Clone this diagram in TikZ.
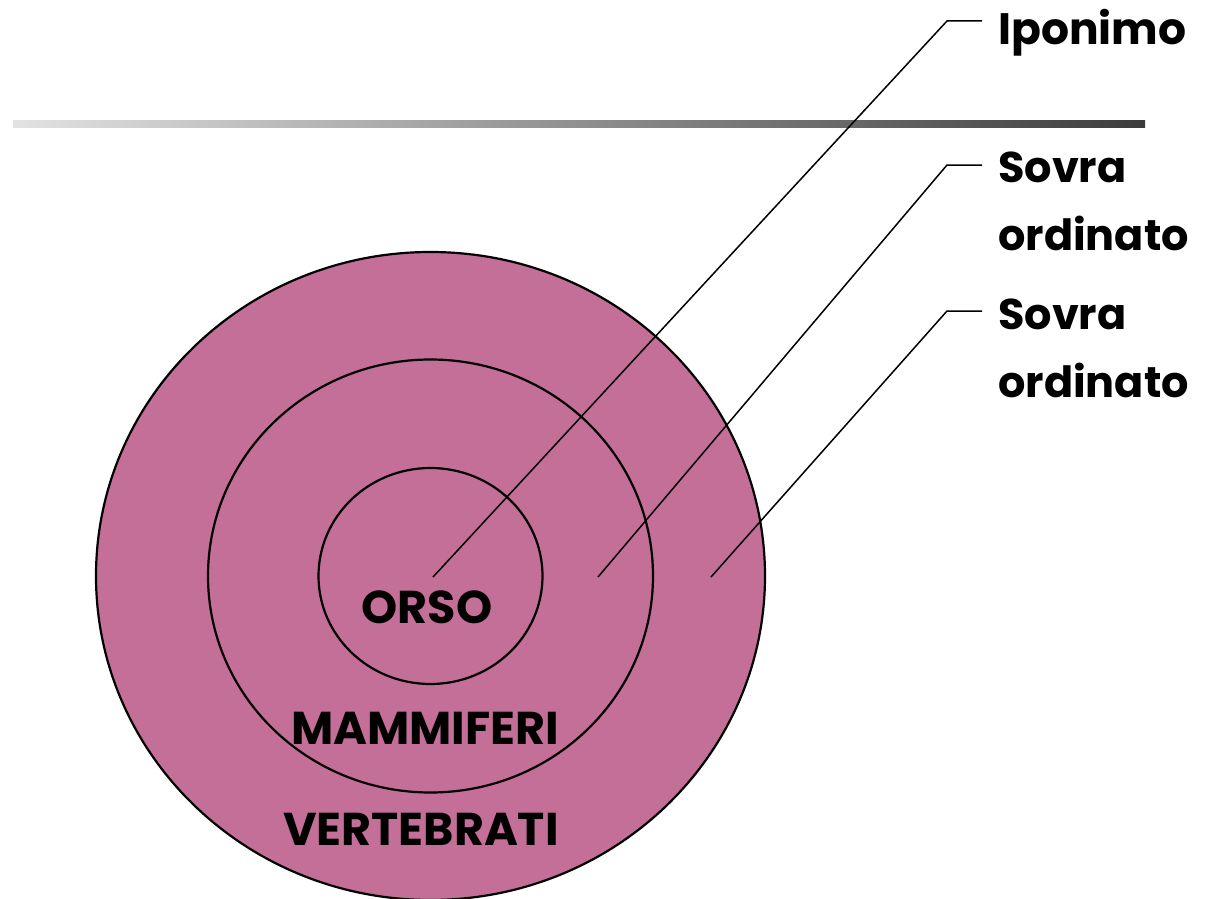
\documentclass[tikz,border=0pt]{standalone}
\usepackage{fontspec}
\setmainfont{Poppins}[BoldFont={* Bold}]
\usetikzlibrary{shapes.geometric}
\definecolor{setpink}{RGB}{196,111,151}
\definecolor{barlight}{RGB}{226,226,226}
\definecolor{bardark}{RGB}{60,60,60}
\tikzset{
  setellipse/.style={ellipse, draw=black, line width=2.2pt, fill=setpink, inner sep=0pt, outer sep=0pt},
  setlabel/.style={font=\bfseries\fontsize{46}{50}\selectfont, inner sep=0pt},
  sidelabel/.style={font=\bfseries\fontsize{43}{68}\selectfont, inner sep=0pt, align=left, anchor=base west},
  leader/.style={draw=black, line width=1.5pt},
}
\begin{document}
\begin{tikzpicture}[x=1pt,y=-1pt]
\useasboundingbox (0,0) rectangle (1213,899);
% gradient bar
\shade[left color=barlight, right color=bardark] (13,120) rectangle (1145,127);
% nested sets
\node[setellipse, minimum width=669pt, minimum height=648pt] (outer) at (430.5,576) {};
\node[setellipse, minimum width=445pt, minimum height=433pt] (middle) at (430.5,576) {};
\node[setellipse, minimum width=224pt, minimum height=216pt] (inner) at (430.5,576) {};
% set labels
\node[setlabel] (orso) at (427,607) {ORSO};
\node[setlabel] (mamm) at (425,728) {MAMMIFERI};
\node[setlabel] (vert) at (421,829) {VERTEBRATI};
% side labels
\node[sidelabel, font=\bfseries\fontsize{44}{68}\selectfont] (ipo) at (998,45) {Iponimo};
\node[sidelabel] (sov1) at (998,250) {Sovra\\ordinato};
\node[sidelabel] (sov2) at (998,397) {Sovra\\ordinato};
% leader lines
\coordinate (p1) at (433,577);
\coordinate (e1) at (947,21);
\coordinate (t1) at (982,21);
\coordinate (p2) at (598,577);
\coordinate (e2) at (947,165);
\coordinate (t2) at (982,165);
\coordinate (p3) at (711,577);
\coordinate (e3) at (947,311);
\coordinate (t3) at (982,311);
\draw[leader] (p1) -- (e1) -- (t1);
\draw[leader] (p2) -- (e2) -- (t2);
\draw[leader] (p3) -- (e3) -- (t3);
\end{tikzpicture}
\end{document}
